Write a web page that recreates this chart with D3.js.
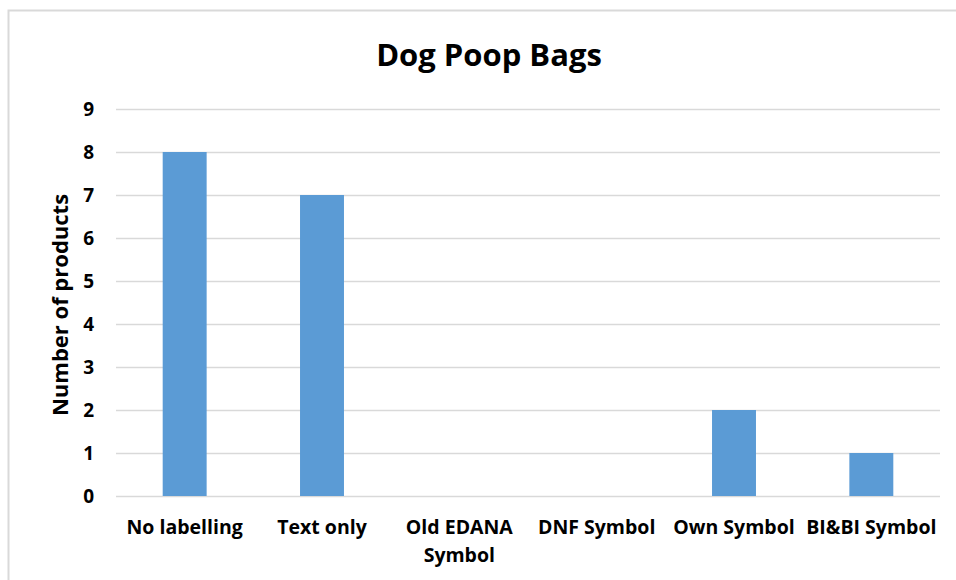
<!DOCTYPE html>
<html>
<head>
<meta charset="utf-8">
<script src="https://cdn.jsdelivr.net/npm/d3@7"></script>
<style>
  body { margin: 0; background: #fff; }
  text { font-family: "Open Sans", Lato, sans-serif; font-weight: bold; fill: #000; }
</style>
</head>
<body>
<script type="text/javascript">
    const Width = 956;
    const Height = 580;

    // data
    const categories = ["No labelling", "Text only", "Old EDANA Symbol", "DNF Symbol", "Own Symbol", "BI&BI Symbol"];
    const products = [8, 7, 0, 0, 2, 1];
    const yTicks = [0, 1, 2, 3, 4, 5, 6, 7, 8, 9];

    const margin = { top: 109, right: 16, bottom: 84, left: 116 };

    const svg = d3.select("body")
     .append("svg")
     .attr("width", Width)
     .attr("height", Height);

    // chart frame (only top and left edges are visible)
    svg.append("path")
     .attr("d", "M8.5,580 V10.5 H956")
     .attr("fill", "none")
     .attr("stroke", "#d9d9d9")
     .attr("stroke-width", 2);

    const x = d3.scaleBand()
     .domain(categories)
     .range([margin.left, Width - margin.right])
     .paddingInner(0.68)
     .paddingOuter(0.34);

    const y = d3.scaleLinear()
     .domain([0, 9])
     .range([Height - margin.bottom, margin.top]);

    // gridlines + y labels
    const yAxis = svg.append("g")
     .attr("transform", "translate(" + margin.left + ",0)")
     .call(d3.axisLeft(y).tickValues(yTicks).tickSize(-(Width - margin.right - margin.left)).tickPadding(22));
    yAxis.select(".domain").remove();
    yAxis.selectAll(".tick line").attr("stroke", "#d9d9d9").attr("stroke-width", 1.5);
    yAxis.selectAll(".tick text").style("font-size", "19px").attr("fill", "#000");

    // bars
    svg.selectAll("rect.bar")
     .data(products)
     .enter()
     .append("rect")
     .attr("class", "bar")
     .attr("x", function (d, i) { return x(categories[i]); })
     .attr("y", function (d) { return y(d); })
     .attr("width", x.bandwidth())
     .attr("height", function (d) { return y(0) - y(d); })
     .attr("fill", "#5b9bd5");

    // x labels, wrapped like the original
    const lines = {
      "Old EDANA Symbol": ["Old EDANA", "Symbol"]
    };
    const xl = svg.append("g");
    categories.forEach(function (c) {
      const cx = x(c) + x.bandwidth() / 2;
      const parts = lines[c] || [c];
      parts.forEach(function (p, j) {
        xl.append("text")
         .attr("x", cx)
         .attr("y", 534 + j * 28)
         .attr("text-anchor", "middle")
         .style("font-size", "19.5px")
         .text(p);
      });
    });

    // title
    svg.append("text")
     .attr("x", 489)
     .attr("y", 66)
     .attr("text-anchor", "middle")
     .style("font-size", "31px")
     .text("Dog Poop Bags");

    // y axis title
    svg.append("text")
     .attr("transform", "translate(68,305) rotate(-90)")
     .attr("text-anchor", "middle")
     .style("font-size", "22px")
     .text("Number of products");
</script>
</body>
</html>
